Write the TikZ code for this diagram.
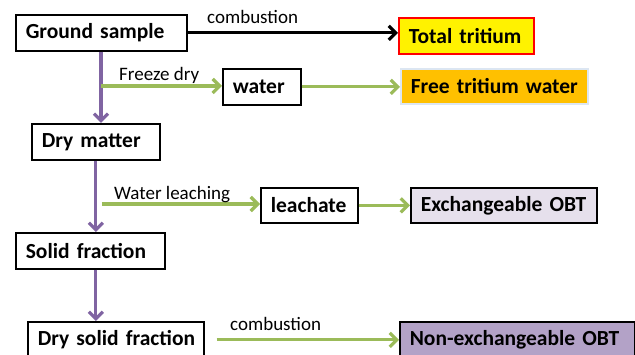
\documentclass[tikz,border=0pt]{standalone}
\usepackage{fontspec}
\setmainfont{Carlito}
\usetikzlibrary{arrows.meta}
\definecolor{pur}{HTML}{8064A2}
\definecolor{grn}{HTML}{9BBB59}
\definecolor{orng}{HTML}{FFC000}
\definecolor{lav}{HTML}{E6E0EC}
\definecolor{lav2}{HTML}{B3A2C7}
\definecolor{bluegray}{HTML}{DCE6F2}
\tikzset{
  box/.style={draw=black, line width=1.6pt, anchor=north west, inner xsep=5pt, inner ysep=0pt,
    font=\fontsize{21.5}{21.5}\selectfont\bfseries, align=left},
  lbl/.style={font=\fontsize{19}{19}\selectfont, inner sep=0pt},
  tip/.style={-{Straight Barb[length=7pt,width=14pt]}},
  purline/.style={draw=pur, line width=3.2pt, tip},
  grnline/.style={draw=grn, line width=3.2pt, tip},
  blkline/.style={draw=black, line width=3.2pt, tip}
}
\begin{document}
\begin{tikzpicture}[x=1pt,y=-1pt]
\useasboundingbox (0,0) rectangle (635,355);
\node[box, text width=161pt, minimum height=36pt] (gs) at (15,14) {\hspace*{5pt}Ground sample};
\node[box, text width=125pt, minimum height=36pt, fill=yellow, draw=red] (tt) at (398,17) {\hspace*{5pt}Total tritium};
\node[box, text width=68pt, minimum height=36pt] (wa) at (222,68) {\hspace*{5pt}water};
\node[box, text width=177pt, minimum height=35pt, fill=orng, draw=bluegray] (ftw) at (400,68) {\hspace*{5pt}Free tritium water};
\node[box, text width=118pt, minimum height=36pt] (dm) at (31,123) {\hspace*{5pt}Dry matter};
\node[box, text width=87pt, minimum height=35pt] (le) at (260,187) {\hspace*{5pt}leachate};
\node[box, text width=176pt, minimum height=35pt, fill=lav] (ex) at (410,187) {\hspace*{5pt}Exchangeable OBT};
\node[box, text width=139pt, minimum height=36pt] (sf) at (15,232) {\hspace*{5pt}Solid fraction};
\node[box, text width=166pt, minimum height=36pt] (dsf) at (27,321) {\hspace*{5pt}Dry solid fraction};
\node[box, text width=225pt, minimum height=36pt, fill=lav2] (nex) at (399,321) {\hspace*{5pt}Non-exchangeable OBT};

\coordinate (a1) at (101,86);
\coordinate (a2) at (101,204);
\draw[purline] (gs.south -| a1) -- (a1 |- dm.north);
\draw[purline] ([xshift=0pt]dm.south) ++(0,0) coordinate (b1) -- (b1 |- sf.north);
\draw[purline] (sf.south -| b1) -- (b1 |- dsf.north);
\draw[grnline] (a1) -- (a1 -| wa.west);
\draw[grnline] (wa.east) -- (wa.east -| ftw.west);
\draw[grnline] (a2 -| b1) ++(6,0) coordinate (a3) -- (a3 -| le.west);
\draw[grnline] (le.east) -- (le.east -| ex.west);
\draw[blkline] (gs.east) -- (gs.east -| tt.west);
\draw[grnline] ([xshift=12pt]dsf.east) coordinate (c1) -- (c1 -| nex.west);

\node[lbl, anchor=base west] (l1) at (207,24) {combustion};
\node[lbl, anchor=base west] (l2) at (119,81) {Freeze dry};
\node[lbl, anchor=base west] (l3) at (114,200) {Water leaching};
\node[lbl, anchor=base west] (l4) at (230,331) {combustion};
\end{tikzpicture}
\end{document}
